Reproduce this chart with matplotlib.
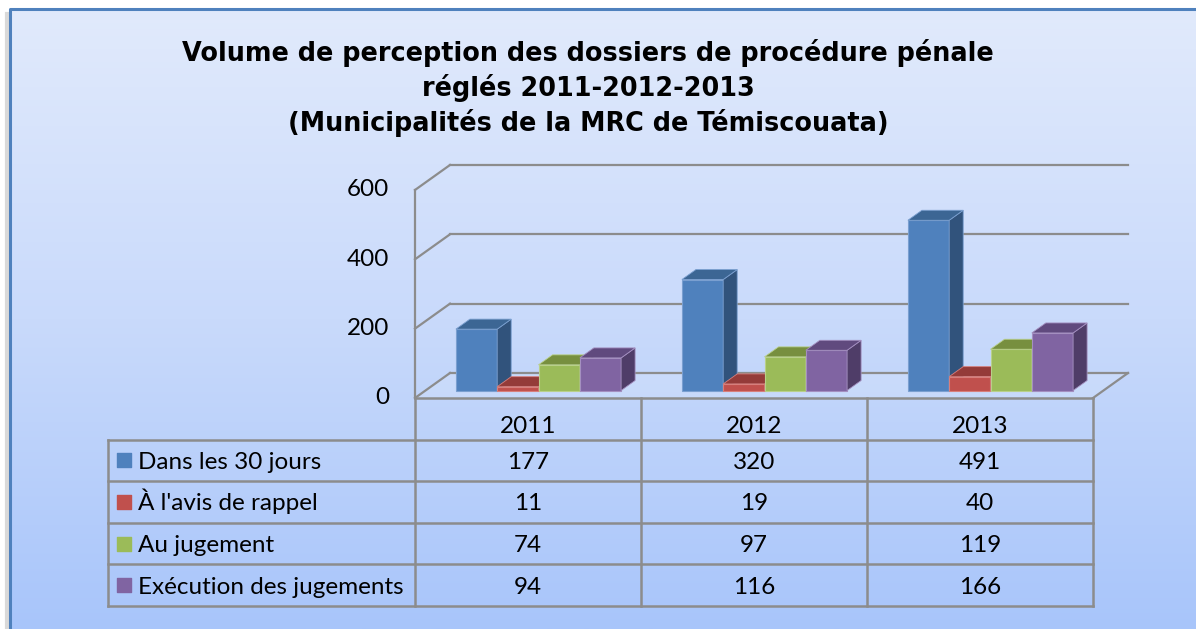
import numpy as np
import matplotlib
matplotlib.use("Agg")
import matplotlib.pyplot as plt
from matplotlib.patches import Polygon
from matplotlib.colors import LinearSegmentedColormap

# données
years = ["2011", "2012", "2013"]
series = ["Dans les 30 jours", "À l'avis de rappel", "Au jugement", "Exécution des jugements"]
dans_30_jours = [177, 320, 491]
avis_rappel = [11, 19, 40]
au_jugement = [74, 97, 119]
execution = [94, 116, 166]
values = [dans_30_jours, avis_rappel, au_jugement, execution]
y_ticks = [0, 200, 400, 600]

# couleurs (face, dessus, côté)
FRONT = ["#4f81bd", "#c0504d", "#9bbb59", "#8064a2"]
TOP = ["#3c6694", "#943b39", "#778f3f", "#604a7e"]
SIDE = ["#31537c", "#7d3230", "#637a33", "#4f3d68"]
EDGE = ["#7a9fd0", "#d77f7c", "#b9d08a", "#a48fc0"]
GRID = "#8c8c8c"

W, H = 1196, 629
TXT_FONT = ["Lato", "DejaVu Sans"]
TXT_SIZE = 17.5


def px_rect(x0, y0, x1, y1):
    return [x0 / W, 1 - y1 / H, (x1 - x0) / W, (y1 - y0) / H]


fig = plt.figure(figsize=(W / 100, H / 100), dpi=100)

# fond dégradé + cadre
bg = fig.add_axes([0, 0, 1, 1])
bg.set_xlim(0, W)
bg.set_ylim(H, 0)
bg.axis("off")
cmap = LinearSegmentedColormap.from_list("bg", ["#e1eafc", "#c9dafb", "#a8c5fa"])
grad = np.linspace(0, 1, 256)[:, None]
bg.imshow(grad, extent=(10, W, H, 9), cmap=cmap, aspect="auto", zorder=0)
bg.plot([7, 7], [14, H], color="#d9d9d9", lw=3, zorder=1)
bg.plot([10, 10, W], [H, 9, 9], color="#4f81bd", lw=2.2, zorder=2)

# titre
fig.text(588 / W, 1 - 88 / H,
         "Volume de perception des dossiers de procédure pénale\n"
         "réglés 2011-2012-2013\n"
         "(Municipalités de la MRC de Témiscouata)",
         ha="center", va="center", multialignment="center",
         fontsize=18.4, fontweight="bold", family="DejaVu Sans", linespacing=1.32)

# géométrie 3D (pixels par catégorie / par unité)
PXC = 226.0
PXU = 0.3467
DX = 35 / PXC      # profondeur en x (catégories)
DY = 25 / PXU      # profondeur en y (unités)
BW = 41.3 / PXC    # largeur d'une barre
GAP = (1 - 4 * BW) / 2
D0, DL = 0.3, 0.4  # position et épaisseur des barres en profondeur

top_px = 398 - (600 + DY) * PXU
right_px = 415 + (3 + DX) * PXC
ax = fig.add_axes(px_rect(415, top_px, right_px, 398))
ax.set_xlim(0, 3 + DX)
ax.set_ylim(0, 600 + DY)
ax.axis("off")

# sol
ax.add_patch(Polygon([(0, 0), (3, 0), (3 + DX, DY), (DX, DY)], closed=True,
                     facecolor="white", alpha=0.12, edgecolor="none", zorder=1))
ax.plot([3, 3 + DX], [0, DY], color=GRID, lw=1.6, clip_on=False, zorder=2)
# murs
for v in y_ticks:
    ax.plot([DX, 3 + DX], [v + DY, v + DY], color=GRID, lw=1.6, clip_on=False, zorder=2)
    ax.plot([0, DX], [v, v + DY], color=GRID, lw=1.6, clip_on=False, zorder=2)
ax.plot([0, 0], [0, 600], color=GRID, lw=1.6, clip_on=False, zorder=2)

# graduations (texte à 26 px à gauche du mur)
lab_x = -26 / (right_px - 415)
for v in y_ticks:
    ax.text(lab_x, v, str(v), transform=ax.get_yaxis_transform(), ha="right",
            va="center", family=TXT_FONT, fontsize=TXT_SIZE)

# barres 3D
for i, vals in enumerate(values):
    for j, v in enumerate(vals):
        x0 = j + GAP + i * BW + D0 * DX
        b = D0 * DY
        t = b + v
        x1 = x0 + BW
        ddx, ddy = DL * DX, DL * DY
        z = 3 + i
        ax.bar(x0, v, width=BW, bottom=b, align="edge", color=FRONT[i],
               edgecolor=EDGE[i], lw=0.8, zorder=z)
        ax.add_patch(Polygon([(x1, b), (x1, t), (x1 + ddx, t + ddy), (x1 + ddx, b + ddy)],
                             closed=True, facecolor=SIDE[i], edgecolor=EDGE[i], lw=0.6, zorder=z))
        ax.add_patch(Polygon([(x0, t), (x1, t), (x1 + ddx, t + ddy), (x0 + ddx, t + ddy)],
                             closed=True, facecolor=TOP[i], edgecolor=EDGE[i], lw=0.6, zorder=z))

# tableau de données
LW = (415 - 108) / PXC
tb = fig.add_axes(px_rect(108, 398, 1093, 606))
tb.set_xlim(-LW, 3)
tb.set_ylim(5, 0)
tb.axis("off")
tb.plot([0, 3], [0, 0], color=GRID, lw=1.8, clip_on=False)
for r in range(1, 6):
    tb.plot([-LW, 3], [r, r], color=GRID, lw=1.8, clip_on=False)
tb.plot([-LW, -LW], [1, 5], color=GRID, lw=1.8, clip_on=False)
for c in range(4):
    tb.plot([c, c], [0, 5], color=GRID, lw=1.8, clip_on=False)

for j, y in enumerate(years):
    tb.text(j + 0.5, 0.83, y, ha="center", va="baseline", family=TXT_FONT, fontsize=TXT_SIZE)
for i, name in enumerate(series):
    tb.scatter([-LW + 0.073], [i + 1.5], marker="s", s=110, color=FRONT[i], zorder=3)
    tb.text(-LW + 0.133, i + 1.7, name, ha="left", va="baseline",
            family=TXT_FONT, fontsize=TXT_SIZE)
    for j, v in enumerate(values[i]):
        tb.text(j + 0.5, i + 1.7, str(v), ha="center", va="baseline",
                family=TXT_FONT, fontsize=TXT_SIZE)

fig.savefig("out.png", dpi=100)
